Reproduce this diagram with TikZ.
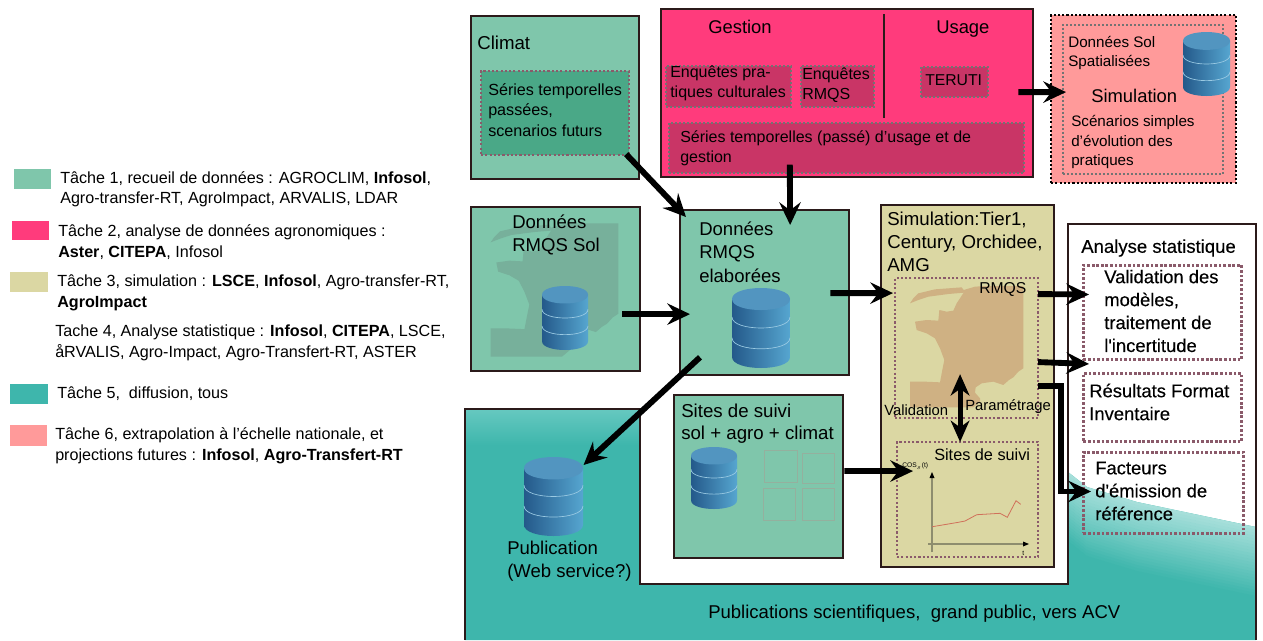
\documentclass[tikz,border=0pt]{standalone}
\usepackage{fontspec}
\setmainfont{Liberation Sans}
\newfontfamily\heavy{Liberation Sans}[FakeBold=0.25]
\usetikzlibrary{arrows.meta,calc}
\definecolor{tealc}{HTML}{3EB6AC}
\definecolor{tealtop}{HTML}{66C8C0}
\definecolor{tealfade}{HTML}{A6DFDA}
\definecolor{greenc}{HTML}{7FC6AB}
\definecolor{greenin}{HTML}{4AA887}
\definecolor{solmap}{HTML}{77B09B}
\definecolor{pinkc}{HTML}{FF3B7C}
\definecolor{pinkin}{HTML}{C93566}
\definecolor{khaki}{HTML}{DBD7A3}
\definecolor{salmon}{HTML}{FF9A9A}
\definecolor{tanc}{HTML}{CFB183}
\definecolor{edge}{HTML}{2B1A1A}
\definecolor{mauve}{HTML}{8A5A6A}
\definecolor{dbdark}{HTML}{24598A}
\definecolor{dblight}{HTML}{56A6D0}
\definecolor{dbtop}{HTML}{5295C0}
\definecolor{axisc}{HTML}{8E8D6E}
\definecolor{redc}{HTML}{D0705A}
\definecolor{sqline}{HTML}{94B09E}
\tikzset{
  box/.style={draw=edge,line width=1.7pt},
  dotbox/.style={draw=mauve,line width=1.6pt,dash pattern=on 1.6pt off 1.6pt},
  dotboxb/.style={draw=mauve,line width=2.2pt,dash pattern=on 2pt off 1.4pt},
  greydot/.style={draw=black!55,line width=1.2pt,dash pattern=on 1.5pt off 1.5pt},
  thinsq/.style={draw=sqline,line width=0.9pt},
  txt/.style={anchor=west,inner sep=0pt,align=left},
  conn/.style={draw=black,line width=4.4pt,line join=miter,-{Stealth[length=17pt,width=16pt,inset=6pt]}},
  dconn/.style={draw=black,line width=3.8pt,{Stealth[length=16pt,width=14pt,inset=5pt]}-{Stealth[length=16pt,width=14pt,inset=5pt]}},
}
\newcommand\fsz[2]{\fontsize{#1}{#2}\selectfont}
\newcommand\bx[6]{\node[#2,anchor=north west,inner sep=0pt,minimum width={(#5-#3)*0.75pt},minimum height={(#6-#4)*0.75pt}] (#1) at (#3,#4) {};}
\newcommand\dbase[5]{%
  \pgfmathsetmacro\dbR{0.19*(#4-#2)}%
  \pgfmathsetmacro\dbC{1.333*\dbR}%
  \pgfmathsetmacro\dbH{#5-#3}%
  \shade[left color=dbdark,right color=dblight] (#2,{#3+\dbR}) -- (#2,{#5-\dbR})
     .. controls (#2,{#5-\dbR+\dbC}) and (#4,{#5-\dbR+\dbC}) .. (#4,{#5-\dbR}) -- (#4,{#3+\dbR}) -- cycle;
  \foreach \dbF in {0.5,0.76}{
    \pgfmathsetmacro\dbY{#3+\dbF*\dbH-\dbR}%
    \draw[draw=dblight!60!white,line width=0.5pt] (#2,\dbY) .. controls (#2,{\dbY+\dbC}) and (#4,{\dbY+\dbC}) .. (#4,\dbY);
  }
  \fill[dbtop] (#2,{#3+\dbR}) .. controls (#2,{#3+\dbR+\dbC}) and (#4,{#3+\dbR+\dbC}) .. (#4,{#3+\dbR})
     .. controls (#4,{#3+\dbR-\dbC}) and (#2,{#3+\dbR-\dbC}) .. (#2,{#3+\dbR}) -- cycle;
  \bx{#1}{}{#2}{#3}{#4}{#5}
}
\newcommand\francemap[2]{%
  \begin{scope}[#1]
  \fill[#2] (75,100) -- (85,85) -- (100,70) -- (150,58) -- (230,52) -- (236,60) -- (270,50) -- (300,48) -- (415,48)
   -- (415,295) -- (400,305) -- (385,322) -- (372,330) -- (355,345) -- (325,335) -- (290,340) -- (272,352) -- (270,368)
   -- (285,385) -- (285,395) -- (265,412) -- (75,412) -- (75,335) -- (120,335) -- (165,337) -- (172,300) -- (178,270)
   -- (165,235) -- (150,205) -- (125,190) -- (95,180) -- (90,155) -- (125,150) -- (160,152) -- (163,120) -- (185,125)
   -- (205,122) -- (215,100) -- (236,68) -- (190,72) -- (130,80) -- (100,90) -- cycle;
  \end{scope}
}
\begin{document}
\begin{tikzpicture}[x=0.75pt,y=-0.75pt]
\useasboundingbox (0,0) rectangle (1263,640);

% --- diffusion background
\fill[tealc] (465,409) -- (640,409) -- (640,584) -- (1068,584) -- (1068,472) -- (1087,487) -- (1137,502) -- (1256,527) -- (1256,640) -- (465,640) -- cycle;
\shade[top color=tealtop,bottom color=tealc] (465,409) rectangle (640,445);
\foreach \k in {0,...,23}{
  \pgfmathsetmacro\ko{3*\k}
  \pgfmathtruncatemacro\kp{100-\k*100/23}
  \fill[tealfade!\kp!tealc] (1068,{472+\ko}) -- (1087,{487+\ko}) -- (1137,{502+\ko}) -- (1256,{527+\ko}) -- (1256,{527+\ko+3.5}) -- (1137,{502+\ko+3.5}) -- (1087,{487+\ko+3.5}) -- (1068,{472+\ko+3.5}) -- cycle;
}
\draw[edge,line width=1.3pt] (465,640) -- (465,409) -- (640,409) -- (640,584) -- (1068,584) -- (1068,224) -- (1256,224) -- (1256,640);

% --- climat
\bx{climat}{box,fill=greenc}{470}{15}{638}{178}
\bx{climatInner}{dotbox,fill=greenin}{480}{70}{628}{154}
\node[txt,font=\fsz{14}{17}] (climatT) at (477,43) {Climat};
\node[txt,font=\fsz{12.1}{15.4}] (climatS) at (488,110) {Séries temporelles\\passées,\\scenarios futurs};

% --- gestion / usage
\bx{gestion}{box,fill=pinkc}{660}{8}{1032}{176}
\draw[edge,line width=0.8pt] (884,14) -- (884,118);
\node[txt,font=\fsz{13.8}{17}] (gestionT) at (708,27) {Gestion};
\node[txt,font=\fsz{13.8}{17}] (usageT) at (936,29) {Usage};
\bx{enqA}{greydot,fill=pinkin}{665}{65}{790}{106}
\bx{enqB}{greydot,fill=pinkin}{800}{65}{873}{106}
\bx{teruti}{greydot,fill=pinkin}{920}{66}{987}{96}
\bx{serie}{greydot,fill=pinkin}{668}{122}{1023}{172}
\node[txt,font=\fsz{12}{15}] (enqAT) at (670,83.5) {Enquêtes pra-\\tiques culturales};
\node[txt,font=\fsz{12}{15}] (enqBT) at (802,85.5) {Enquêtes\\RMQS};
\node[txt,font=\fsz{11.8}{15}] (terutiT) at (925,80) {TERUTI};
\node[txt,font=\fsz{12}{15}] (serieT) at (680,148) {Séries temporelles (passé) d'usage et de\\gestion};

% --- extrapolation
\bx{pinkBox}{fill=salmon,draw=black,line width=1.6pt,dash pattern=on 1.6pt off 1.6pt}{1050}{14}{1235}{182}
\bx{pinkIn}{greydot}{1062}{24}{1222}{173}
\dbase{pinkDb}{1183}{32}{1230}{96}
\node[txt,font=\fsz{11.4}{14.4}] (pinkA) at (1068,53) {Données Sol\\Spatialisées};
\node[txt,font=\fsz{13.8}{17}] (pinkB) at (1091,96) {Simulation};
\node[txt,font=\fsz{11.4}{14.4}] (pinkC) at (1071,142) {Scénarios simples\\d'évolution des\\pratiques};

% --- donnees sol
\bx{sol}{box,fill=greenc}{470}{206}{639}{370}
\francemap{shift={(462.5,205.7)},xscale=0.3755,yscale=0.3663}{solmap}
\dbase{solDb}{542}{286}{588}{350}
\node[txt,font=\fsz{13.9}{17.3}] (solT) at (512,235) {Données\\RMQS Sol};

% --- donnees elaborees
\bx{elab}{box,fill=greenc}{679}{209}{848}{374}
\dbase{elabDb}{732}{288}{790}{368}
\node[txt,font=\fsz{13.9}{17.6}] (elabT) at (699,252) {Données\\RMQS\\elaborées};

% --- sites de suivi
\bx{sites}{box,fill=greenc}{673}{394}{842}{557}
\dbase{sitesDb}{691}{447}{737}{509}
\node[txt,font=\fsz{14}{16.6}] (sitesT) at (681,423.5) {Sites de suivi\\sol + agro + climat};
\bx{sqA}{thinsq}{764}{450}{797}{482}
\bx{sqB}{thinsq}{802}{453}{834}{483}
\bx{sqC}{thinsq}{763}{488}{795}{520}
\bx{sqD}{thinsq}{802}{488}{834}{520}

% --- publication
\dbase{pubDb}{524}{457}{583}{536}
\node[txt,font=\fsz{13.9}{17.3}] (pubT) at (507,561) {Publication\\(Web service?)};
\node[txt,font=\fsz{13.9}{17}] (pubS) at (708,614) {Publications scientifiques,\ \ grand public, vers ACV};

% --- simulation
\bx{sim}{box,fill=khaki}{880}{204}{1053}{566}
\bx{simMap}{dotbox}{894}{277}{1037}{417}
\francemap{shift={(885,270)},scale=0.3333}{tanc}
\bx{sitesSim}{dotbox}{896}{441}{1037}{556}
\node[txt,font=\fsz{14}{17.3}] (simT) at (887,242) {Simulation:Tier1,\\Century, Orchidee,\\AMG};
\node[txt,font=\fsz{11.8}{14}] (rmqsT) at (979,289) {RMQS};
\node[txt,font=\fsz{11.1}{14}] (validT) at (884,410) {Validation};
\node[txt,font=\fsz{11.1}{14}] (paramT) at (965,407) {Paramétrage};
\node[txt,font=\fsz{12.2}{15}] (sitesSimT) at (934,455) {Sites de suivi};
% chart
\draw[axisc,line width=1.2pt] (932,552) -- (932,476);
\fill[black] (932,472) -- (934.5,478) -- (929.5,478) -- cycle;
\draw[axisc,line width=1.2pt] (928,544) -- (1025,544);
\fill[black] (1029,544) -- (1023,541.5) -- (1023,546.5) -- cycle;
\draw[redc,line width=0.6pt] (932.3,526.7) -- (958.3,522.3) -- (965,521) -- (976.7,514.7) -- (1000,513.3) -- (1007.3,517.3) -- (1016,500.7) -- (1020.7,504.3);
\node[txt,font=\fsz{5}{6}] (cosT) at (902,466) {COS$_s$(t)};
\node[txt,font=\fsz{5}{6}] (tT) at (1022,553) {t};

% --- analyse
\node[txt,font=\fsz{13.9}{17}\heavy] (anaT) at (1081,248) {Analyse statistique};
\bx{valid}{dotboxb}{1082}{264}{1240}{358}
\bx{format}{dotboxb}{1082}{372}{1240}{440}
\bx{fact}{dotboxb}{1082}{451}{1242}{532}
\node[txt,font=\fsz{13.8}{17.2}\heavy] (validT2) at (1104,311) {Validation des\\modèles,\\traitement de\\l'incertitude};
\node[txt,font=\fsz{13.8}{17.2}\heavy] (formatT) at (1089,402) {Résultats Format\\Inventaire};
\node[txt,font=\fsz{13.8}{17.2}\heavy] (factT) at (1095,491) {Facteurs\\d'émission de\\référence};

% --- connectors
\draw[conn] ([shift={(-4,-2)}]climatInner.south east) -- ([shift={(7,8)}]elab.north west);
\draw[conn] ([shift={(-56.5,-9)}]serie.south) -- ([shift={(25.5,16)}]elab.north);
\draw[conn,line width=4.8pt] ([shift={(-19,25)}]sol.east) -- ([shift={(11,21.5)}]elab.west);
\draw[conn] ([shift={(-20,0.5)}]elab.east) -- ([shift={(-1,-55)}]simMap.west);
\draw[conn] ([shift={(-16,-1)}]gestion.east) -- ([shift={(16,-7)}]pinkBox.west);
\draw[conn] ([shift={(-1,-54)}]simMap.east) -- ([shift={(7,-18)}]valid.west);
\draw[conn] ([shift={(-1,14)}]simMap.east) -- ([shift={(7,3)}]valid.south west);
\draw[conn] ([shift={(-1,38)}]simMap.east) -- ++(23,0) |- ([shift={(9,-1.5)}]fact.west);
\draw[dconn] ([shift={(-6.5,-45)}]simMap.south) -- ([shift={(-7.5,1)}]sitesSim.north);
\draw[conn] ([shift={(21,-19)}]elab.south west) -- ([shift={(0,8)}]pubDb.north east);
\draw[conn] (sites.east |- 0,471) -- ([shift={(17,-28.5)}]sitesSim.west);

% --- legend
\bx{sw1}{fill=greenc}{14}{169}{51}{189}
\bx{sw2}{fill=pinkc}{12}{221}{49}{240}
\bx{sw3}{fill=khaki}{10}{272}{48}{292}
\bx{sw5}{fill=tealc}{10}{384}{48}{404}
\bx{sw6}{fill=salmon}{10}{425}{47}{446}
\node[txt,font=\fsz{12.1}{15.4}] (lg1) at (60,189) {Tâche 1, recueil de données : AGROCLIM, \textbf{Infosol},\\Agro-transfer-RT, AgroImpact, ARVALIS, LDAR};
\node[txt,font=\fsz{12.1}{15.4}] (lg2) at (58,242) {Tâche 2, analyse de données agronomiques :\\\textbf{Aster}, \textbf{CITEPA}, Infosol};
\node[txt,font=\fsz{12.1}{15.4}] (lg3) at (57,293) {Tâche 3, simulation : \textbf{LSCE}, \textbf{Infosol}, Agro-transfer-RT,\\\textbf{AgroImpact}};
\node[txt,font=\fsz{12.1}{15.4}] (lg4) at (55,343) {Tache 4, Analyse statistique : \textbf{Infosol}, \textbf{CITEPA}, LSCE,\\åRVALIS, Agro-Impact, Agro-Transfert-RT, ASTER};
\node[txt,font=\fsz{12.1}{15.4}] (lg5) at (57,394) {Tâche 5,\ \ diffusion, tous};
\node[txt,font=\fsz{12.1}{15.4}] (lg6) at (55,446) {Tâche 6, extrapolation à l'échelle nationale, et\\projections futures : \textbf{Infosol}, \textbf{Agro-Transfert-RT}};
\end{tikzpicture}
\end{document}
